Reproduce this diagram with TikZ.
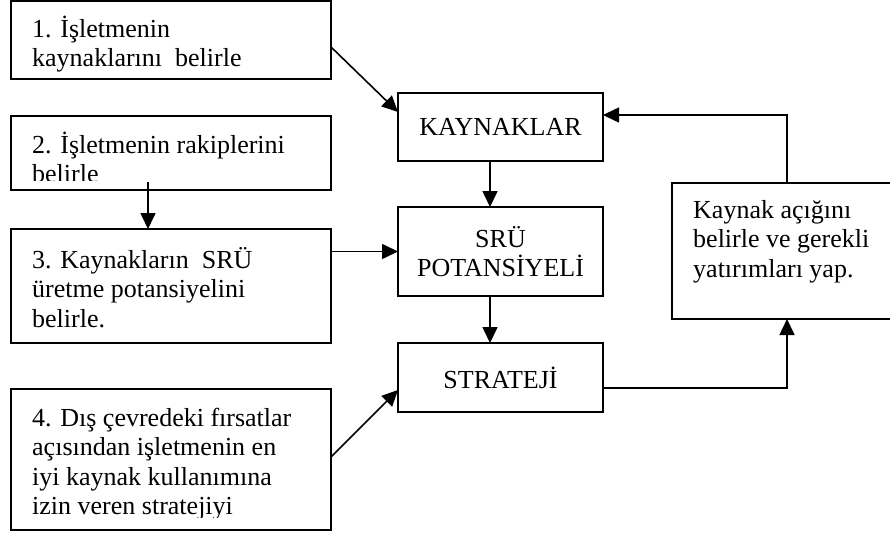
\documentclass[tikz,border=0pt]{standalone}
\usepackage{fontspec}
\setmainfont{Liberation Serif}
\usetikzlibrary{arrows.meta}
\tikzset{
 box/.style={draw, line width=1.6pt, inner sep=0pt, outer sep=0pt},
 lt/.style={anchor=north west, inner sep=0pt, align=left, font=\fontsize{26}{29.5}\selectfont},
 ct/.style={inner sep=0pt, align=center, font=\fontsize{26}{29.5}\selectfont},
 arr/.style={line width=1.6pt, -{Triangle[length=16pt,width=15pt]}},
}
\begin{document}
\begin{tikzpicture}[x=1pt,y=-1pt]
\useasboundingbox (0,0) rectangle (890,532);
% left boxes
\node[box, minimum width=320pt, minimum height=78pt] (b1) at (171,40) {};
\node[box, minimum width=320pt, minimum height=74pt] (b2) at (171,153) {};
\node[box, minimum width=320pt, minimum height=114pt] (b3) at (171,286) {};
\node[box, minimum width=320pt, minimum height=141pt] (b4) at (171,459.5) {};
\node[lt] (t1) at (32,15.5) {\strut 1. İşletmenin\\kaynaklarını~ belirle};
\begin{scope}
\clip (11,116) rectangle (331,180);
\node[lt] (t2) at (32,131.5) {\strut 2. İşletmenin rakiplerini\\belirle};
\end{scope}
\node[lt] (t3) at (32,247) {\strut 3. Kaynakların~ SRÜ\\üretme potansiyelini\\belirle.};
\begin{scope}
\clip (11,389) rectangle (331,517);
\node[lt] (t4) at (32,405.5) {\strut 4. Dış çevredeki fırsatlar\\açısından işletmenin en\\iyi kaynak kullanımına\\izin veren stratejiyi};
\end{scope}
% centre column
\node[box, ct, minimum width=205pt, minimum height=68pt] (k) at (500.5,127) {KAYNAKLAR};
\node[box, ct, minimum width=205pt, minimum height=89pt] (s) at (500.5,251.5) {SRÜ\\POTANSİYELİ};
\node[box, ct, minimum width=205pt, minimum height=69pt] (st) at (500.5,377.5) {STRATEJİ};
% right box
\node[box, minimum width=230pt, minimum height=136pt] (r) at (787,251) {};
\node[lt] (tr) at (693,197.5) {\strut Kaynak açığını\\belirle ve gerekli\\yatırımları yap.};
% connectors
\draw[arr] ([yshift=-7pt]b1.east) -- ([yshift=15pt]k.west);
\draw[arr] ([xshift=-23pt,yshift=8pt]b2.south) -- ([xshift=-23pt]b3.north);
\draw[arr] (s.west -| b3.east) -- (s.west);
\draw[arr] ([yshift=2.5pt]b4.east) -- ([yshift=-12.5pt]st.west);
\draw[arr] ([xshift=-10.5pt]k.south) -- ([xshift=-10.5pt]s.north);
\draw[arr] ([xshift=-10.5pt]s.south) -- ([xshift=-10.5pt]st.north);
\draw[arr] ([yshift=-10.5pt]st.east) -| (r.south);
\draw[arr] (r.north) |- ([yshift=12pt]k.east);
\end{tikzpicture}
\end{document}
